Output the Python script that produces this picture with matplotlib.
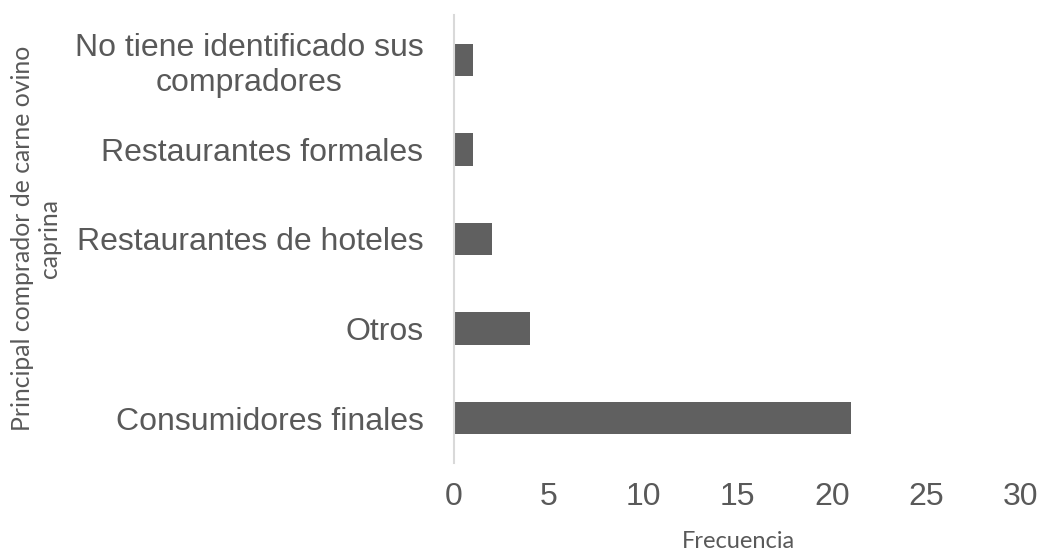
import matplotlib
matplotlib.use('Agg')
from matplotlib import pyplot as plt

# categories listed bottom to top
categorias = ['Consumidores finales', 'Otros', 'Restaurantes de hoteles',
              'Restaurantes formales', 'No tiene identificado sus\ncompradores']
frecuencia = [21, 4, 2, 1, 1]
xticks = [0, 5, 10, 15, 20, 25, 30]

txt_color = '#595959'
bar_color = '#606060'

fig = plt.figure(figsize=(10.41, 5.52), dpi=100)
ax = fig.add_axes([454 / 1041, 1 - 463 / 552, (1021 - 454) / 1041, (463 - 15) / 552])

ax.barh(range(len(categorias)), frecuencia, height=0.36, color=bar_color)
ax.set_ylim(-0.5, len(categorias) - 0.5)
ax.set_xlim(0, 30)
ax.set_xticks(xticks)
ax.set_xticklabels([str(t) for t in xticks], fontsize=23, color=txt_color,
                   family='Liberation Sans')
ax.set_yticks(range(len(categorias)))
ax.set_yticklabels(categorias, fontsize=23, color=txt_color,
                   family='Liberation Sans', multialignment='center')
ax.tick_params(axis='x', length=0, pad=14)
ax.tick_params(axis='y', length=0, pad=22)

for s in ['top', 'right', 'bottom']:
  ax.spines[s].set_visible(False)
ax.spines['left'].set_color('#d9d9d9')
ax.spines['left'].set_linewidth(1.5)

fig.text(36 / 1041, 1 - 238 / 552, 'Principal comprador de carne ovino\ncaprina',
         rotation=90, ha='center', va='center', fontsize=17.8, color=txt_color,
         family='Lato', multialignment='center')
fig.text(738 / 1041, 1 - 541 / 552, 'Frecuencia', ha='center', va='center',
         fontsize=17, color=txt_color, family='Lato')

fig.savefig('out.png', dpi=100)
